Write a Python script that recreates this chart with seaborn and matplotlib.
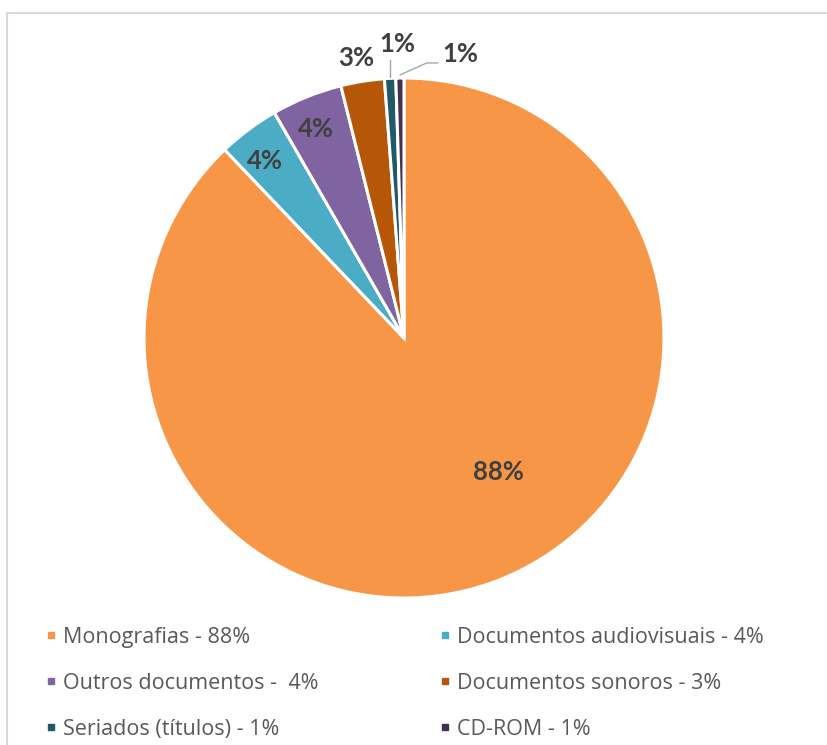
import matplotlib
matplotlib.use("Agg")
import matplotlib.pyplot as plt
import seaborn as sns
from matplotlib.lines import Line2D

sns.set_theme(style="white")
plt.rcParams['font.family'] = ['Lato', 'DejaVu Sans']

categories = ["Monografias", "Documentos audiovisuais", "Outros documentos",
              "Documentos sonoros", "Seriados (títulos)", "CD-ROM"]
values = [87.8, 3.8, 4.4, 2.7, 0.7, 0.5]
pct_labels = ["88%", "4%", "4%", "3%", "1%", "1%"]
legend_labels = ["Monografias - 88%", "Documentos audiovisuais - 4%",
                 "Outros documentos -  4%", "Documentos sonoros - 3%",
                 "Seriados (títulos) - 1%", "CD-ROM - 1%"]
colors = sns.color_palette(["#F79646", "#4BACC6", "#8064A2",
                            "#B65708", "#215968", "#403152"])

fig = plt.figure(figsize=(8.27, 7.45), dpi=100)
ax = fig.add_axes([0.1741, 0.1973, 0.6288, 0.698])
wedges, _ = ax.pie(values, colors=colors, startangle=90, counterclock=False,
                   radius=1.0, wedgeprops=dict(edgecolor="white", linewidth=2.2))
ax.set_xlim(-1, 1)
ax.set_ylim(-1, 1)
ax.set_aspect("auto")
ax.axis("off")

# label text positions (data units)
label_pos = [(0.362, -0.515), (-0.535, 0.681), (-0.338, 0.804),
             (-0.185, 1.077), (-0.027, 1.131), (0.215, 1.092)]
txt_color = "#404040"
for (x, y), lab in zip(label_pos, pct_labels):
    ax.text(x, y, lab, ha="center", va="center", fontsize=18.5,
            fontweight="bold", color=txt_color, clip_on=False)

# leader lines
lead_c = "#A6A6A6"
ax.plot([-0.054, -0.054], [1.069, 1.004], color=lead_c, lw=1, clip_on=False)
ax.plot([0.131, 0.088, -0.015], [1.058, 1.058, 1.012], color=lead_c, lw=1, clip_on=False)

# border of the chart area
fig.add_artist(Line2D([7/827, 7/827], [1 - 13/745, 0], transform=fig.transFigure,
                      color="#D9D9D9", lw=1.5))
fig.add_artist(Line2D([7/827, 1], [1 - 13/745, 1 - 13/745], transform=fig.transFigure,
                      color="#D9D9D9", lw=1.5))

# legend: two columns built as two legends
def handles_for(idx):
    return [Line2D([0], [0], marker="s", linestyle="none", markersize=5,
                   markerfacecolor=colors[i], markeredgecolor=colors[i]) for i in idx]

left_idx = [0, 2, 4]
right_idx = [1, 3, 5]
common = dict(frameon=False, labelcolor="#595959", handlelength=0.5,
              handletextpad=0.3, labelspacing=1.15, borderaxespad=0, borderpad=0,
              prop={'family': ['Open Sans', 'DejaVu Sans'], 'size': 15.5})
leg1 = fig.legend(handles_for(left_idx), [legend_labels[i] for i in left_idx],
                  loc="upper left", bbox_to_anchor=(46/827, 1 - 627/745), **common)
leg2 = fig.legend(handles_for(right_idx), [legend_labels[i] for i in right_idx],
                  loc="upper left", bbox_to_anchor=(440/827, 1 - 627/745), **common)

fig.savefig("out.png", dpi=100)
